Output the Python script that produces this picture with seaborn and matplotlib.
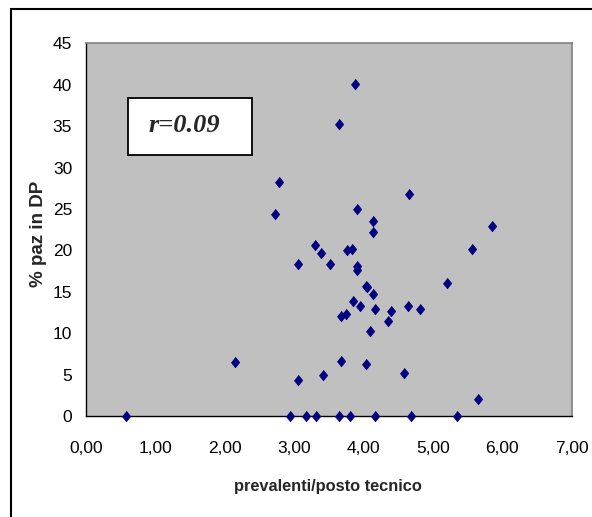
import matplotlib
matplotlib.use("Agg")
import matplotlib.pyplot as plt
import matplotlib.patches as mpatches
import seaborn as sns
import pandas as pd

# data
prevalenti = [0.58, 2.15, 2.73, 2.78, 2.94, 3.06, 3.06, 3.17, 3.30, 3.31, 3.39, 3.42,
              3.51, 3.65, 3.65, 3.67, 3.67, 3.75, 3.76, 3.81, 3.83, 3.85, 3.87, 3.91,
              3.91, 3.91, 3.95, 4.03, 4.05, 4.03, 4.10, 4.14, 4.14, 4.14, 4.16, 4.17,
              4.35, 4.40, 4.59, 4.64, 4.66, 4.69, 4.81, 5.21, 5.34, 5.57, 5.65, 5.85]
paz_dp = [0.0, 6.5, 24.4, 28.2, 0.0, 4.35, 18.3, 0.0, 20.7, 0.0, 19.7, 5.0,
          18.3, 0.0, 35.3, 6.7, 12.1, 12.3, 20.0, 0.0, 20.2, 13.9, 40.1, 25.0,
          18.1, 17.6, 13.3, 15.7, 15.6, 6.3, 10.3, 23.6, 22.2, 14.7, 12.9, 0.0,
          11.5, 12.7, 5.2, 13.3, 26.8, 0.0, 12.9, 16.1, 0.0, 20.2, 2.0, 23.0]
x_ticks = [0, 1, 2, 3, 4, 5, 6, 7]
x_tick_labels = ["0,00", "1,00", "2,00", "3,00", "4,00", "5,00", "6,00", "7,00"]
y_ticks = [0, 5, 10, 15, 20, 25, 30, 35, 40, 45]
r_label = "r=0.09"

df = pd.DataFrame({"x": prevalenti, "y": paz_dp})

sns.set_style("white")
plt.rcParams["font.family"] = ["Liberation Sans", "DejaVu Sans"]

W, H = 592, 517
fig = plt.figure(figsize=(W / 100, H / 100), dpi=100)
ax = fig.add_axes([86 / W, 1 - 416 / H, (571.7 - 86) / W, (416 - 43.3) / H])
ax.set_facecolor("#C0C0C0")

diamond = [(0, 1), (0.8, 0), (0, -1), (-0.8, 0)]
sns.scatterplot(data=df, x="x", y="y", ax=ax, marker=diamond, s=58,
                color="#000080", edgecolor="#000080", linewidth=0.5,
                clip_on=False, zorder=5)

ax.set_xlim(0, 7)
ax.set_ylim(0, 45)
ax.set_xticks(x_ticks)
ax.set_xticklabels(x_tick_labels)
ax.set_yticks(y_ticks)
ax.tick_params(axis="both", direction="out", length=4, width=1, color="black",
               labelsize=12.5, labelcolor="black")
ax.tick_params(axis="x", pad=13, length=5)
ax.tick_params(axis="y", pad=6, length=4)

for side in ["top", "right"]:
    ax.spines[side].set_color("#808080")
    ax.spines[side].set_linewidth(1.2)
for side in ["left", "bottom"]:
    ax.spines[side].set_color("black")
    ax.spines[side].set_linewidth(1)

ax.set_xlabel("prevalenti/posto tecnico", fontsize=11.8, fontweight="bold")
ax.set_ylabel("% paz in DP", fontsize=13.5, fontweight="bold")
ax.xaxis.set_label_coords((328 - 86) / (571.7 - 86), -(487 - 416) / (416 - 43.3))
ax.yaxis.set_label_coords(-(86 - 39) / (571.7 - 86), (416 - 234) / (416 - 43.3))
ax.xaxis.label.set_va("center")
ax.yaxis.label.set_va("center")

# r box
bx0, by0, bx1, by1 = 128.3, 97.7, 252.3, 155.0
rect = mpatches.Rectangle((bx0 / W, 1 - by1 / H), (bx1 - bx0) / W, (by1 - by0) / H,
                          transform=fig.transFigure, facecolor="white",
                          edgecolor="black", linewidth=1.3, zorder=10)
fig.patches.append(rect)
fig.text(184.5 / W, 1 - 126 / H, r_label, ha="center", va="center",
         fontsize=19, fontweight="bold", fontstyle="italic",
         family=["Liberation Serif", "DejaVu Serif"], zorder=11)

# outer border (extends past right and bottom edges)
border = mpatches.Rectangle((11 / W, -0.02), 1.05, 1 - 9 / H + 0.02,
                            transform=fig.transFigure, facecolor="none",
                            edgecolor="black", linewidth=1.5, zorder=20)
fig.patches.append(border)

fig.savefig("out.png", dpi=100)
